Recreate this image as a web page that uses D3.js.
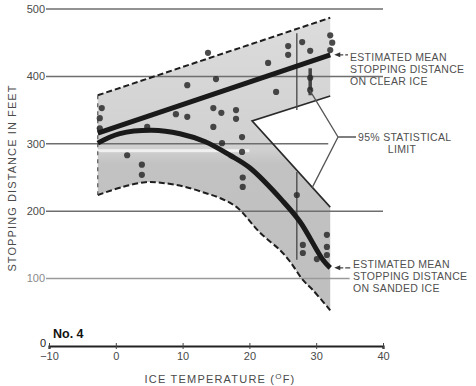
<!DOCTYPE html>
<html lang="en">
<head>
    <meta charset="UTF-8">
    <title>Stopping distance on ice</title>
    <script src="https://d3js.org/d3.v7.min.js"></script>
    <style>
        body { margin: 0; background: #fff; }
        svg { display: block; font-family: 'Liberation Sans', Arial, sans-serif; }
        .lbl { fill: #4a4a4a; font-size: 11px; }
        .note { fill: #505050; font-size: 10.5px; letter-spacing: 0.3px; }
    </style>
</head>
<body>
    <div id="chart"></div>

    <script>
        // axis ticks
        const xTicks = [-10, 0, 10, 20, 30, 40];
        const yTicks = [0, 100, 200, 300, 400, 500];

        // 95% band (clear ice upper part, sanded ice lower part)
        const bandTopTemp = [-2.7, 32.1];
        const bandTopDist = [372, 487];
        const notchTemp = [32.1, 20.4, 32.1];
        const notchDist = [371, 334, 206];
        const bandLowTemp = [32.1, 29.5, 28.0, 26.1, 24.6, 21.6, 18.1, 15.5, 13.4, 10.4, 7.0, 4.4, 1.0, -2.7];
        const bandLowDist = [53, 83, 98, 125, 142, 168, 206, 220, 227, 236, 242, 243, 236, 224];

        // estimated mean curves
        const clearTemp = [-2.7, 32.1];
        const clearDist = [316, 432];
        const sandTemp = [-2.7, 0.6, 5.4, 9.6, 13.4, 17.1, 20.1, 25.0, 27.6, 31.0, 32.1];
        const sandDist = [301, 315, 320, 315, 303, 283, 264, 215, 184, 128, 116];

        // test runs
        const runTemp = [-2.1, -2.4, -2.4, 1.7, 3.9, 3.9, 4.7, 10.7, 10.7, 15.0, 14.6, 15.8, 18.0, 18.0,
                         14.6, 18.9, 15.9, 18.9, 22.8, 25.8, 25.8, 27.9, 29.1, 24.0, 32.1, 32.4, 32.1,
                         13.8, 19.0, 19.0, 29.1, 29.1, 31.6, 28.0, 28.0, 31.6, 31.6, 30.1, 27.1, 9.0];
        const runDist = [353, 338, 323, 283, 269, 254, 325, 387, 340, 396, 353, 346, 350, 337,
                         325, 310, 301, 288, 420, 445, 432, 451, 438, 377, 461, 450, 439,
                         435, 250, 236, 398, 380, 165, 150, 138, 147, 135, 129, 224, 344];

        // range bars drawn through some runs
        const barTemp = [27.1, 27.1, 29.1];
        const barLo = [350, 128, 372];
        const barHi = [464, 258, 412];

        const width = 476, height = 386;
        const x = d3.scaleLinear().domain([-10, 40]).range([49, 383]);
        const y = d3.scaleLinear().domain([0, 500]).range([346, 9]);

        const svg = d3.select('#chart').append('svg')
            .attr('width', width)
            .attr('height', height);

        const defs = svg.append('defs');
        const grad = defs.append('linearGradient')
            .attr('id', 'bandFill')
            .attr('x1', 0).attr('y1', 0).attr('x2', 0).attr('y2', 1);
        grad.append('stop').attr('offset', '0%').attr('stop-color', '#dcdcdc');
        grad.append('stop').attr('offset', '45%').attr('stop-color', '#d0d0d0');
        grad.append('stop').attr('offset', '50%').attr('stop-color', '#c2c2c2');
        grad.append('stop').attr('offset', '100%').attr('stop-color', '#bfbfbf');

        // shaded band
        const pts = [];
        pts.push([bandTopTemp[0], bandTopDist[0]], [bandTopTemp[1], bandTopDist[1]]);
        notchTemp.forEach((t, i) => pts.push([t, notchDist[i]]));

        const lowPts = bandLowTemp.map((t, i) => [t, bandLowDist[i]]);
        const curve = d3.line().x(d => x(d[0])).y(d => y(d[1])).curve(d3.curveCatmullRom);
        const straight = d3.line().x(d => x(d[0])).y(d => y(d[1]));

        // band outline: straight parts then the curved lower edge
        const bandPath = straight(pts) + curve(lowPts).replace(/^M/, 'L') + 'Z';
        svg.append('path')
            .attr('d', bandPath)
            .attr('fill', 'url(#bandFill)');

        // scan artefact: pale stripe under the 300 line
        svg.append('rect')
            .attr('x', x(bandTopTemp[0]))
            .attr('y', y(292))
            .attr('width', x(20) - x(bandTopTemp[0]))
            .attr('height', 3)
            .attr('fill', '#f0f0f0');

        // gridlines, visible through the band (300 and 100 stop short where the notes begin)
        const gridEnd = { 100: 35, 200: 40, 300: 31.8, 400: 40, 500: 40 };
        svg.append('g').selectAll('line')
            .data(yTicks.filter(d => d > 0))
            .join('line')
            .attr('x1', x(-10) - 3)
            .attr('x2', d => x(gridEnd[d]))
            .attr('y1', d => y(d))
            .attr('y2', d => y(d))
            .attr('stroke', d => d === 100 ? '#9a9a9a' : '#6e6e6e')
            .attr('stroke-width', 1.5);

        // band edges
        const dashed = { stroke: '#1e1e1e', 'stroke-width': 2, 'stroke-dasharray': '6,3' };
        const topEdge = svg.append('path')
            .attr('d', straight(bandTopTemp.map((t, i) => [t, bandTopDist[i]])))
            .attr('fill', 'none');
        Object.entries(dashed).forEach(([k, v]) => topEdge.attr(k, v));
        const lowEdge = svg.append('path')
            .attr('d', curve(lowPts))
            .attr('fill', 'none');
        Object.entries(dashed).forEach(([k, v]) => lowEdge.attr(k, v));
        svg.append('path')
            .attr('d', straight(notchTemp.map((t, i) => [t, notchDist[i]])))
            .attr('fill', 'none')
            .attr('stroke', '#2a2a2a')
            .attr('stroke-width', 1.6);
        svg.append('line')
            .attr('x1', x(bandTopTemp[0])).attr('x2', x(bandTopTemp[0]))
            .attr('y1', y(bandTopDist[0])).attr('y2', y(bandLowDist[bandLowDist.length - 1]))
            .attr('stroke', '#555')
            .attr('stroke-width', 1.2)
            .attr('stroke-dasharray', '4,4');

        // range bars
        svg.append('g').selectAll('line')
            .data(barTemp)
            .join('line')
            .attr('x1', d => x(d)).attr('x2', d => x(d))
            .attr('y1', (d, i) => y(barLo[i]))
            .attr('y2', (d, i) => y(barHi[i]))
            .attr('stroke', '#444')
            .attr('stroke-width', (d, i) => i === 2 ? 3.5 : 1.3);

        // test runs
        svg.append('g').selectAll('circle')
            .data(runTemp)
            .join('circle')
            .attr('cx', d => x(d))
            .attr('cy', (d, i) => y(runDist[i]))
            .attr('r', 3.1)
            .attr('fill', '#2c2c2c')
            .attr('opacity', 0.85);

        // mean curves
        svg.append('path')
            .attr('d', straight(clearTemp.map((t, i) => [t, clearDist[i]])))
            .attr('fill', 'none')
            .attr('stroke', '#1a1a1a')
            .attr('stroke-width', 5);
        svg.append('path')
            .attr('d', curve(sandTemp.map((t, i) => [t, sandDist[i]])))
            .attr('fill', 'none')
            .attr('stroke', '#1a1a1a')
            .attr('stroke-width', 5);

        // x axis
        const xAxis = svg.append('g')
            .attr('transform', `translate(0,${y(0)})`)
            .call(d3.axisBottom(x).tickValues(xTicks).tickSize(3).tickPadding(3));
        xAxis.select('.domain').attr('stroke', '#222').attr('stroke-width', 2.2);
        xAxis.selectAll('.tick line').attr('stroke', '#444').attr('y1', -3);
        xAxis.selectAll('.tick text').attr('class', 'lbl').attr('font-size', 11).attr('font-family', null);

        // y labels
        svg.append('g').selectAll('text')
            .data(yTicks)
            .join('text')
            .attr('class', 'lbl')
            .attr('x', d => d === 0 ? x(-10) - 3 : x(-10) - 4)
            .attr('y', d => y(d) - (d === 0 ? 3 : 0))
            .attr('dy', '0.35em')
            .attr('text-anchor', 'end')
            .style('fill', d => d === 0 ? '#222' : d === 100 ? '#8a8a8a' : '#4a4a4a')
            .text(d => d);

        svg.append('text')
            .attr('x', 53).attr('y', 338)
            .attr('font-size', 12.5).attr('font-weight', 'bold').attr('fill', '#111')
            .text('No. 4');

        svg.append('text')
            .attr('class', 'lbl')
            .attr('x', 220).attr('y', 383)
            .attr('text-anchor', 'middle')
            .attr('letter-spacing', 1.2)
            .attr('font-size', 10.5)
            .html('ICE TEMPERATURE  (<tspan dy="-4" font-size="8">O</tspan><tspan dy="4">F)</tspan>');

        svg.append('text')
            .attr('class', 'lbl')
            .attr('transform', 'translate(16,178) rotate(-90)')
            .attr('text-anchor', 'middle')
            .attr('letter-spacing', 1.1)
            .attr('font-size', 10.5)
            .text('STOPPING  DISTANCE  IN  FEET');

        // notes
        function note(lines, tx, ty) {
            const t = svg.append('text').attr('class', 'note').attr('x', tx).attr('y', ty);
            lines.forEach((s, i) => t.append('tspan').attr('x', tx).attr('dy', i ? 12 : 0).text(s));
        }
        function arrow(t, d, xs) {
            const ax = x(t) + 4, ay = y(d);
            svg.append('line').attr('x1', ax + 4).attr('x2', xs).attr('y1', ay).attr('y2', ay)
                .attr('stroke', '#444').attr('stroke-width', 1.2).attr('stroke-dasharray', '5,2');
            svg.append('path').attr('d', `M${ax},${ay}L${ax + 6},${ay - 2.5}L${ax + 6},${ay + 2.5}Z`).attr('fill', '#333');
        }
        note(['ESTIMATED MEAN', 'STOPPING DISTANCE', 'ON CLEAR ICE'], 350, 61);
        arrow(clearTemp[1], clearDist[1], 348);
        note(['ESTIMATED MEAN', 'STOPPING DISTANCE', 'ON SANDED ICE'], 353, 268);
        arrow(sandTemp[sandTemp.length - 1], sandDist[sandDist.length - 1], 351);

        // 95% bracket
        const bx = 338, by = 137;
        svg.append('path')
            .attr('d', `M${x(29.0)},${y(380)}L${bx},${by}L${x(29.4)},${y(235)}M${bx},${by}L356,${by}`)
            .attr('fill', 'none')
            .attr('stroke', '#555')
            .attr('stroke-width', 1.3);
        note(['95% STATISTICAL'], 358, 141);
        svg.append('text').attr('class', 'note').attr('x', 402).attr('y', 153)
            .attr('text-anchor', 'middle').text('LIMIT');
    </script>
</body>
</html>
